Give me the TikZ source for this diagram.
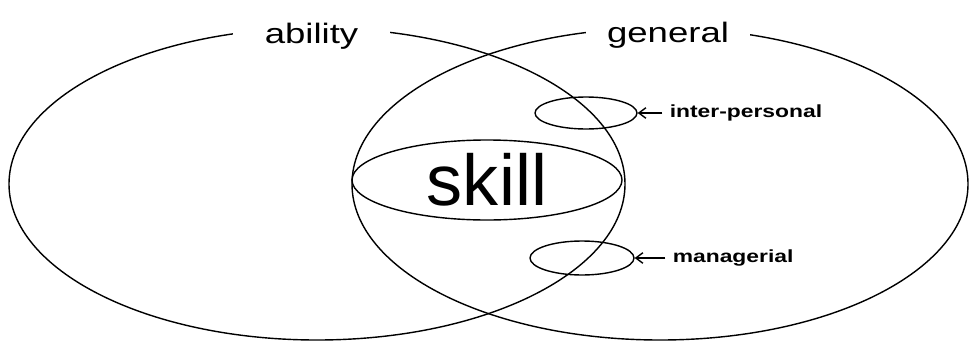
\documentclass[tikz,border=0pt]{standalone}
\usepackage{fontspec}
\setmainfont{Liberation Sans}
\newfontfamily\wideFont[FakeStretch=1.3]{Liberation Sans}
\usetikzlibrary{positioning,arrows.meta,shapes.geometric}

\begin{document}
\begin{tikzpicture}[
    ring/.style={draw, ellipse, inner sep=0pt, line width=0.8pt},
    head/.style={fill=white, inner ysep=2pt, anchor=base, font=\wideFont\fontsize{16}{16}\selectfont},
    tag/.style={inner sep=1pt, font=\wideFont\bfseries\fontsize{10}{10}\selectfont},
    arr/.style={-{Straight Barb[length=4pt,width=6pt]}, line width=0.8pt, shorten <=3pt},
]
\useasboundingbox (0,0) rectangle (19.4,-6.84);

% Main ellipses
\node[ring, minimum width=12.32cm, minimum height=6.24cm] (abl) at (6.34,-3.68) {};
\node[ring, minimum width=12.32cm, minimum height=6.24cm] (gen) at (13.2,-3.68) {};

% Inner ellipses
\node[ring, minimum width=5.4cm, minimum height=1.6cm, font=\fontsize{41}{41}\selectfont] (skl) at (9.74,-3.6) {skill};
\node[ring, minimum width=2.04cm, minimum height=0.64cm] (ip) at (11.72,-2.26) {};
\node[ring, minimum width=2.08cm, minimum height=0.68cm] (mg) at (11.64,-5.16) {};

% Headings over the outlines
\node[head, inner xsep=0.64cm] (abltxt) at (6.23,-0.86) {ability};
\node[head, inner xsep=0.42cm] (gentxt) at (13.36,-0.84) {general};

% Side labels
\node[tag, right=0.6cm of ip] (iptxt) {inter-personal};
\node[tag, right=0.72cm of mg] (mgtxt) {managerial};

% Arrows
\draw[arr] (iptxt) -- (ip);
\draw[arr] (mgtxt) -- (mg);
\end{tikzpicture}
\end{document}
